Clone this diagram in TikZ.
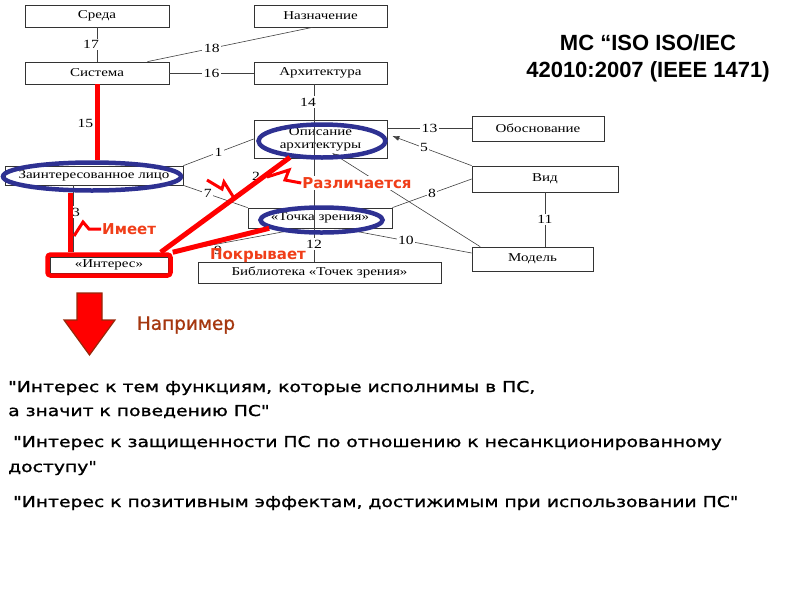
\documentclass[tikz,border=0pt]{standalone}
\usepackage{fontspec}
\setmainfont{Liberation Serif}
\newfontfamily\boxfont[FakeStretch=1.25]{Liberation Serif}
\newfontfamily\notefont[FakeStretch=1.25,FakeBold=1.2]{DejaVu Sans}
\newfontfamily\egfont[FakeBold=1]{DejaVu Sans}
\newfontfamily\tagfont{DejaVu Sans}
\newfontfamily\titlefont{Liberation Sans}
\usetikzlibrary{positioning,arrows.meta,calc,shapes.geometric}

\definecolor{ringblue}{RGB}{46,49,146}
\definecolor{tagred}{RGB}{240,62,25}
\definecolor{egbrown}{RGB}{165,55,15}
\definecolor{arrowedge}{RGB}{150,40,10}

\begin{document}
\begin{tikzpicture}[x=1pt,y=-1pt,
  box/.style={draw=black!80,line width=0.7pt,inner sep=0pt,align=center,
    font=\boxfont\fontsize{12}{13}\selectfont},
  num/.style={fill=white,inner sep=1.5pt,font=\boxfont\fontsize{12.5}{14}\selectfont},
  link/.style={draw=black!75,line width=0.6pt},
  ring/.style={draw=ringblue,line width=4.5pt,ellipse,inner sep=0pt},
  redline/.style={draw=red,line width=5pt},
  zig/.style={draw=red,line width=3pt,line join=miter},
  tag/.style={text=tagred,inner sep=1pt,font=\tagfont\bfseries\fontsize{15}{18}\selectfont},
  note/.style={anchor=base west,inner sep=0pt,font=\notefont\fontsize{15}{18}\selectfont}]
\useasboundingbox (0,0) rectangle (800,600);
% model boxes (IEEE 1471 conceptual model)
\node[box,minimum width=144pt,minimum height=22pt] (sreda) at (97,16) {Среда};
\node[box,minimum width=144pt,minimum height=22pt] (sistema) at (97,73) {Система};
\node[box,minimum width=133pt,minimum height=22pt] (naznach) at (320.5,16) {Назначение};
\node[box,minimum width=133pt,minimum height=22pt] (arch) at (320.5,73) {Архитектура};
\node[box,minimum width=133pt,minimum height=38pt] (opis) at (320.5,139) {Описание\\архитектуры};
\node[box,minimum width=132pt,minimum height=25pt] (obosn) at (538,128.5) {Обоснование};
\node[box,minimum width=146pt,minimum height=26pt] (vid) at (545,179) {Вид};
\node[box,minimum width=121pt,minimum height=24pt] (model) at (532.5,259) {Модель};
\node[box,minimum width=144pt,minimum height=20pt] (tochka) at (320,218) {«Точка зрения»};
\node[box,minimum width=243pt,minimum height=21pt] (bibl) at (319.5,272.5) {Библиотека «Точек зрения»};
\node[box,minimum width=178pt,minimum height=19pt] (zainter) at (94,175.5) {Заинтересованное лицо};
\node[box,minimum width=118pt,minimum height=16pt] (interes) at (109,265) {«Интерес»};
\node[draw=red,line width=4.5pt,rounded corners=3pt,minimum width=123pt,minimum height=21pt] (frame) at (109,265) {};

% numbered relations
\draw[link] (sreda) -- (sistema) node[num,midway,xshift=-6pt] {17};
\draw[link] ($(sistema.north east)+(-22,0)$) -- ($(naznach.south)+(-8,0)$) node[num,pos=0.39] {18};
\draw[link] (sistema) -- (arch) node[num,midway] {16};
\draw[link] ([xshift=-6.5pt]arch.south) -- ([xshift=-6.5pt]arch.south |- bibl.north)
  node[num,pos=0.1,xshift=-6pt] {14} node[num,pos=0.9] {12};
\node[num] (n2) at (256,176) {2};
\draw[link] (zainter.north east) -- (opis.west) node[num,midway] {1};
\draw[link] (zainter.south east) -- (tochka.north west) node[num,pos=0.38] {7};
\draw[link] (opis.east |- obosn) -- (obosn.west) node[num,midway] {13};
\draw[link,-{Latex[length=7pt,width=5pt]}] (vid.north west) -- ($(opis.east)+(5,-3)$) node[num,pos=0.6] {5};
\draw[link] (tochka.north east) -- (vid.west) node[num,midway] {8};
\draw[link] ($(tochka.south)+(20,0)$) -- ($(model.west)+(0,-6)$) node[num,midway] {10};
\draw[link] (vid.south) -- (vid.south |- model.north) node[num,midway] {11};
\draw[link] (frame.north east) -- ($(tochka.south)+(-18,0)$) node[num,pos=0.35,yshift=-7pt] {9};
\draw[link] (zainter.south -| 73,0) -- (frame.north -| 73,0) node[num,pos=0.4,xshift=3pt] {3};
\node[num,anchor=east] (n15) at (95,123) {15};
\coordinate (diffEnd) at (332,153);
\draw[link,-{Latex[length=7pt,width=5pt]}] ($(model.north west)!0.07!(model.north east)$) -- (diffEnd);

% highlighted elements
\node[ring,minimum width=178pt,minimum height=28pt] (ringZ) at (92,176.5) {};
\node[ring,minimum width=127pt,minimum height=33pt] (ringO) at (322,141) {};
\node[ring,minimum width=122pt,minimum height=25pt] (ringT) at (321.5,220) {};

% highlighted relations
\draw[redline] (sistema.south) -- (sistema.south |- ringZ.north);
\coordinate (hasT) at ($(frame.north west)!0.2!(frame.north east)$);
\draw[redline] (hasT |- ringZ.south) -- (hasT);
\draw[redline] ($(frame.north east)+(-12,0)$) -- (ringO.207);
\draw[redline] (frame.north east) -- (ringT.189);
\node[tag,anchor=west] (has) at (101,229) {Имеет};
\node[tag,fill=white] (differs) at (357,183) {Различается};
\node[tag] (covers) at (258,256) {Покрывает};
\draw[zig] (74,236) -- (83,222) -- (89,229) -- (has.west);
\draw[zig] (267,177) -- (289,170) -- (285,180) -- (differs.west);
\draw[zig] (207,180) -- (222,189) -- (224,182) -- (234,198);

% example arrow
\draw[fill=red,draw=arrowedge,line width=1.2pt,line join=miter]
  (77,293) -- (102,293) -- (102,320) -- (115,320) -- (89.5,355) -- (64,320) -- (77,320) -- cycle;
\node[text=egbrown,font=\egfont\fontsize{18.5}{20}\selectfont] (eg) at (186,325) {Например};

\node[align=center,font=\titlefont\bfseries\fontsize{22}{27}\selectfont] (title) at (648,58)
  {МС “ISO ISO/IEC\\42010:2007 (IEEE 1471)};

% examples of concerns
\node[note] (ex1a) at (8,392) {"Интерес к тем функциям, которые исполнимы в ПС,};
\node[note] (ex1b) at (8,416) {а значит к поведению ПС"};
\node[note] (ex2a) at (13,447) {"Интерес к защищенности ПС по отношению к несанкционированному};
\node[note] (ex2b) at (8,472) {доступу"};
\node[note] (ex3) at (13,507) {"Интерес к позитивным эффектам, достижимым при использовании ПС"};
\end{tikzpicture}
\end{document}
